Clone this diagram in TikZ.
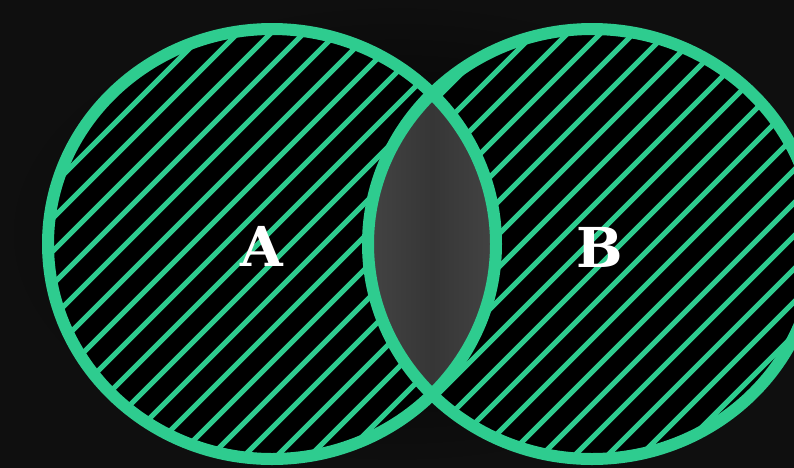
\documentclass[tikz,border=0pt]{standalone}
\usepackage{fontspec}
\newfontfamily\labelfont{DejaVu Serif}
\definecolor{vgreen}{HTML}{2ECC8F}
\definecolor{bgout}{HTML}{0F0F0F}
\definecolor{lensedge}{HTML}{454545}
\definecolor{lensmid}{HTML}{363636}
\tikzset{
  ring/.style={draw=vgreen, line width=12pt},
  hatchline/.style={draw=vgreen, line width=5pt},
  setlabel/.style={text=white, font=\labelfont\bfseries\fontsize{55}{55}\selectfont, inner sep=0pt}
}
\begin{document}
\begin{tikzpicture}[x=1pt,y=-1pt]
\useasboundingbox (0,0) rectangle (794,467);
\shade[inner color=black, outer color=bgout] (0,0) rectangle (794,467);
\def\elA{(272,244) ellipse [x radius=224, y radius=215]}
\def\elB{(592,244) ellipse [x radius=224, y radius=215]}
\fill[black] \elA;
\fill[black] \elB;
\begin{scope}
  \clip \elA;
  \foreach \k in {-12,...,30} {
    \pgfmathsetmacro{\s}{370+33*\k}
    \draw[hatchline] ({\s-500},500) -- ({\s+500},-500);
  }
\end{scope}
\begin{scope}
  \clip \elB;
  \foreach \k in {-12,...,30} {
    \pgfmathsetmacro{\s}{370+33*\k}
    \draw[hatchline] ({\s-500},500) -- ({\s+500},-500);
  }
\end{scope}
\begin{scope}
  \clip \elA;
  \clip \elB;
  \shade[left color=lensedge, right color=lensedge, middle color=lensmid] (360,0) rectangle (504,467);
\end{scope}
\path[ring] \elA;
\path[ring] \elB;
\node[setlabel] (A) at (262,246) {A};
\node[setlabel] (B) at (600,247) {B};
\end{tikzpicture}
\end{document}
